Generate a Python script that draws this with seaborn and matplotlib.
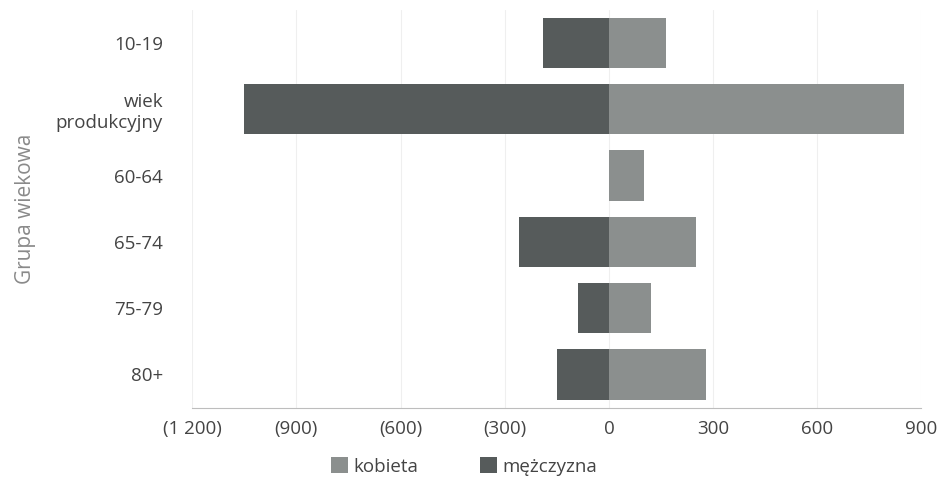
import pandas as pd
import numpy as np
import matplotlib
matplotlib.use("Agg")
import matplotlib.pyplot as plt
import seaborn as sns

# dane
grupy = ['10-19', 'wiek\nprodukcyjny', '60-64', '65-74', '75-79', '80+']
kobiety = [165, 850, 100, 250, 120, 280]
mezczyzni = [-190, -1050, 0, -260, -90, -150]
ticki = [-1200, -900, -600, -300, 0, 300, 600, 900]

df = pd.DataFrame({
    'grupa': grupy * 2,
    'wartosc': kobiety + mezczyzni,
    'plec': ['kobieta'] * len(grupy) + ['mężczyzna'] * len(grupy),
})

sns.set_style('white')
plt.rcParams['font.family'] = ['Open Sans', 'DejaVu Sans']

fig = plt.figure(figsize=(9.47, 4.91), dpi=100)
ax = fig.add_axes([0.203, 0.17, 0.77, 0.81])

kolory = {'kobieta': '#8b8f8e', 'mężczyzna': '#565b5b'}
sns.barplot(data=df, x='wartosc', y='grupa', hue='plec', order=grupy,
            hue_order=['kobieta', 'mężczyzna'], palette=kolory, dodge=False,
            orient='h', width=0.76, saturation=1, linewidth=0, ax=ax, legend=True)

ax.set_xlim(-1200, 900)
ax.set_xticks(ticks=ticki)
ax.set_xticklabels([f"({abs(t):,})".replace(',', ' ') if t < 0 else f"{t}" for t in ticki])
for t in ticki:
    ax.axvline(t, color='#efefef', lw=0.8, zorder=0)

for s in ['top', 'right', 'left']:
    ax.spines[s].set_visible(False)
ax.spines['bottom'].set_color('#bdbdbd')
ax.tick_params(axis='x', colors='#444444', labelsize=13.5, length=0, pad=9)
ax.tick_params(axis='y', colors='#444444', labelsize=13.5, length=0, pad=21)
for lab in ax.get_yticklabels():
    lab.set_horizontalalignment('right')
ax.set_xlabel('')
ax.set_ylabel('Grupa wiekowa', color='#8a8a8a', fontsize=15, labelpad=14)

h, l = ax.get_legend_handles_labels()
ax.legend(h, l, loc='center', bbox_to_anchor=(0.49, 0.05), bbox_transform=fig.transFigure,
          ncol=2, frameon=False, handlelength=0.9, handleheight=0.9, handletextpad=0.3,
          columnspacing=3.3, fontsize=13.5, labelcolor='#444444')

fig.savefig('out.png', dpi=100)
